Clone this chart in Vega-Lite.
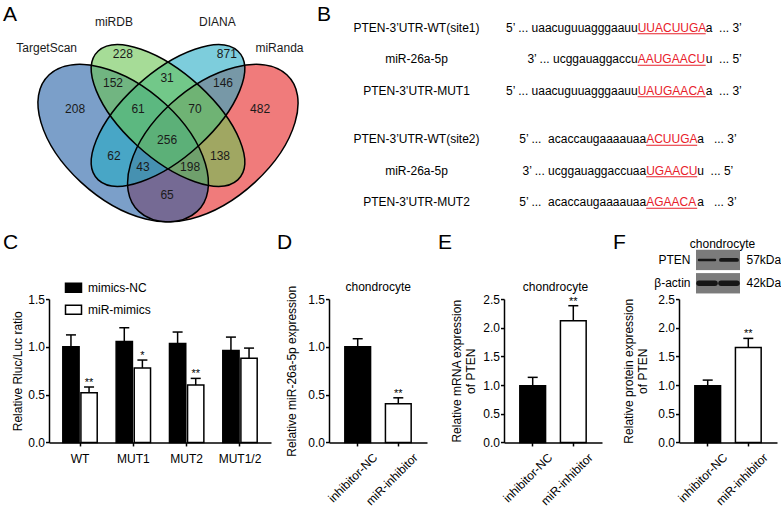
{
  "$schema": "https://vega.github.io/schema/vega-lite/v6.json",
  "background": "white",
  "padding": {"left": 3, "top": 3, "right": 0, "bottom": 0},
  "config": {
    "font": "Liberation Sans",
    "view": {"stroke": null},
    "text": {"font": "Liberation Sans"},
    "axis": {
      "labelFont": "Liberation Sans", "labelFontSize": 12, "labelColor": "black",
      "titleFont": "Liberation Sans", "titleFontSize": 12, "titleFontWeight": "normal", "titleColor": "black",
      "domainColor": "black", "domainWidth": 1.5, "tickColor": "black", "tickWidth": 1.5, "tickSize": 3.5,
      "grid": false, "labelPadding": 1, "minExtent": 0, "labelFlush": false, "labelOverlap": false
    },
    "title": {"font": "Liberation Sans", "fontWeight": "normal", "color": "black"},
    "legend": {"labelFont": "Liberation Sans", "labelFontSize": 12, "labelColor": "black"}
  },
  "datasets": {
    "venn": [
      {"set": "miRanda", "u": 0.65, "v": 0.47},
      {"set": "TargetScan", "u": 0.35, "v": 0.47},
      {"set": "DIANA", "u": 0.5, "v": 0.57},
      {"set": "miRDB", "u": 0.5, "v": 0.57}
    ],
    "vennCounts": [
      {"n": "228", "u": 0.349, "v": 0.794}, {"n": "871", "u": 0.697, "v": 0.794},
      {"n": "152", "u": 0.316, "v": 0.688}, {"n": "31", "u": 0.497, "v": 0.707},
      {"n": "146", "u": 0.684, "v": 0.688}, {"n": "208", "u": 0.189, "v": 0.594},
      {"n": "61", "u": 0.4, "v": 0.594}, {"n": "70", "u": 0.59, "v": 0.594},
      {"n": "482", "u": 0.808, "v": 0.594}, {"n": "256", "u": 0.497, "v": 0.482},
      {"n": "62", "u": 0.319, "v": 0.424}, {"n": "138", "u": 0.674, "v": 0.424},
      {"n": "43", "u": 0.416, "v": 0.384}, {"n": "198", "u": 0.574, "v": 0.384},
      {"n": "65", "u": 0.497, "v": 0.283}
    ],
    "vennNames": [
      {"name": "TargetScan", "u": 0.094, "v": 0.813},
      {"name": "miRDB", "u": 0.319, "v": 0.907},
      {"name": "DIANA", "u": 0.665, "v": 0.907},
      {"name": "miRanda", "u": 0.873, "v": 0.813}
    ],
    "seq1": [
      {"label": "PTEN-3’UTR-WT(site1)", "left": "5’ ... uaacuguuagggaauu", "site": "UUACUUGA", "right": "a\u00a0\u00a0... 3’", "start": 0, "end": 8},
      {"label": "miR-26a-5p", "left": "3’ ... ucggauaggaccu", "site": "AAUGAACU", "right": "u\u00a0\u00a0... 5’", "start": 0, "end": 8},
      {"label": "PTEN-3’UTR-MUT1", "left": "5’ ... uaacuguuagggaauu", "site": "UAUGAACA", "right": "a\u00a0\u00a0... 3’", "start": 0, "end": 8}
    ],
    "seq2": [
      {"label": "PTEN-3’UTR-WT(site2)", "left": "5’ ...\u00a0\u00a0acaccaugaaaauaa", "site": "ACUUGA", "right": "a\u00a0\u00a0\u00a0... 3’", "start": 1, "end": 7},
      {"label": "miR-26a-5p", "left": "3’ ... ucggauaggaccuaa", "site": "UGAACU", "right": "u\u00a0\u00a0... 5’", "start": 1, "end": 7},
      {"label": "PTEN-3’UTR-MUT2", "left": "5’ ...\u00a0\u00a0acaccaugaaaauaa", "site": "AGAACA", "right": "a\u00a0\u00a0\u00a0... 3’", "start": 1, "end": 7}
    ],
    "cData": [
      {"site": "WT", "treat": "mimics-NC", "mean": 1.0, "upper": 1.125, "sig": ""},
      {"site": "WT", "treat": "miR-mimics", "mean": 0.52, "upper": 0.58, "sig": "**"},
      {"site": "MUT1", "treat": "mimics-NC", "mean": 1.055, "upper": 1.2, "sig": ""},
      {"site": "MUT1", "treat": "miR-mimics", "mean": 0.78, "upper": 0.862, "sig": "*"},
      {"site": "MUT2", "treat": "mimics-NC", "mean": 1.035, "upper": 1.155, "sig": ""},
      {"site": "MUT2", "treat": "miR-mimics", "mean": 0.6, "upper": 0.67, "sig": "**"},
      {"site": "MUT1/2", "treat": "mimics-NC", "mean": 0.963, "upper": 1.102, "sig": ""},
      {"site": "MUT1/2", "treat": "miR-mimics", "mean": 0.88, "upper": 0.987, "sig": ""}
    ],
    "dData": [
      {"group": "inhibitor-NC", "mean": 1.0, "upper": 1.085, "sig": ""},
      {"group": "miR-inhibitor", "mean": 0.404, "upper": 0.467, "sig": "**"}
    ],
    "eData": [
      {"group": "inhibitor-NC", "mean": 0.99, "upper": 1.135, "sig": ""},
      {"group": "miR-inhibitor", "mean": 2.122, "upper": 2.384, "sig": "**"}
    ],
    "fData": [
      {"group": "inhibitor-NC", "mean": 0.99, "upper": 1.087, "sig": ""},
      {"group": "miR-inhibitor", "mean": 1.657, "upper": 1.814, "sig": "**"}
    ],
    "blot": [
      {"protein": "PTEN", "lane": "inhibitor-NC", "intensity": 0.45},
      {"protein": "PTEN", "lane": "miR-inhibitor", "intensity": 0.7},
      {"protein": "β-actin", "lane": "inhibitor-NC", "intensity": 1},
      {"protein": "β-actin", "lane": "miR-inhibitor", "intensity": 1}
    ]
  },
  "bounds": "flush",
  "spacing": 287.05,
  "resolve": {"scale": {"fill": "independent", "shape": "independent", "strokeWidth": "independent"}},
  "vconcat": [
    {
      "bounds": "flush",
      "spacing": 203.7,
      "resolve": {"scale": {"fill": "independent", "shape": "independent", "strokeWidth": "independent"}},
      "hconcat": [
        {
          "width": 249, "height": 209.75,
          "title": {"text": "A", "anchor": "start", "frame": "group", "fontSize": 21, "dx": -46, "offset": -29.75, "baseline": "alphabetic"},
          "encoding": {
            "x": {"field": "u", "type": "quantitative", "scale": {"domain": [0.1018, 0.935], "nice": false, "zero": false}, "axis": null},
            "y": {"field": "v", "type": "quantitative", "scale": {"domain": [0.185, 0.9447], "nice": false, "zero": false}, "axis": null}
          },
          "layer": [
            {
              "data": {"name": "venn"},
              "mark": {"type": "point", "filled": true, "fillOpacity": 0.6, "strokeWidth": 0, "size": 4, "opacity": 1},
              "encoding": {
                "shape": {"field": "set", "type": "nominal", "legend": null, "scale": {"domain": ["TargetScan", "miRDB", "DIANA", "miRanda"], "range": [
                  "M 74 68.31 C 50.64 89.87 -1.42 76.76 -42.29 39.03 C -83.16 1.3 -97.36 -46.75 -74 -68.31 C -50.64 -89.87 1.42 -76.76 42.29 -39.03 C 83.16 -1.3 97.36 46.75 74 68.31 Z",
                  "M 69.77 64.4 C 52.26 80.57 6.82 64.85 -31.71 29.28 C -70.24 -6.29 -87.28 -48.23 -69.77 -64.4 C -52.26 -80.57 -6.82 -64.85 31.71 -29.28 C 70.24 6.29 87.28 48.23 69.77 64.4 Z",
                  "M -69.77 64.4 C -52.26 80.57 -6.82 64.85 31.71 29.28 C 70.24 -6.29 87.28 -48.23 69.77 -64.4 C 52.26 -80.57 6.82 -64.85 -31.71 -29.28 C -70.24 6.29 -87.28 48.23 -69.77 64.4 Z",
                  "M -74 68.31 C -50.64 89.87 1.42 76.76 42.29 39.03 C 83.16 1.3 97.36 -46.75 74 -68.31 C 50.64 -89.87 -1.42 -76.76 -42.29 -39.03 C -83.16 -1.3 -97.36 46.75 -74 68.31 Z"
                ]}},
                "fill": {"field": "set", "type": "nominal", "legend": null, "scale": {"domain": ["TargetScan", "miRDB", "DIANA", "miRanda"], "range": ["#235fa5", "#6bc552", "#26acc5", "#e62323"]}}
              }
            },
            {
              "data": {"name": "venn"},
              "mark": {"type": "point", "filled": false, "color": "black", "stroke": "black", "strokeWidth": 1.5, "size": 4, "opacity": 1},
              "encoding": {
                "shape": {"field": "set", "type": "nominal", "legend": null}
              }
            },
            {
              "data": {"name": "vennCounts"},
              "mark": {"type": "text", "fontSize": 12, "color": "#1a1a1a", "align": "center", "baseline": "middle"},
              "encoding": {"text": {"field": "n"}}
            },
            {
              "data": {"name": "vennNames"},
              "mark": {"type": "text", "fontSize": 12, "color": "#1a1a1a", "align": "center", "baseline": "middle"},
              "encoding": {"text": {"field": "name"}}
            }
          ]
        },
        {
          "bounds": "flush",
          "spacing": 16.5,
          "vconcat": [
            {
              "width": 238, "height": 94.5,
              "title": {"text": "B", "anchor": "start", "frame": "group", "fontSize": 21, "dx": -184.7, "offset": -29.75, "baseline": "alphabetic"},
              "data": {"name": "seq1"},
              "encoding": {
                "y": {"field": "label", "type": "nominal", "sort": null, "scale": {"paddingInner": 0, "paddingOuter": 0},
                      "axis": {"title": null, "domain": false, "ticks": false, "tickSize": 0, "labelAlign": "center", "labelPadding": 85.7, "labelLimit": 0}}
              },
              "layer": [
                {"mark": {"type": "text", "align": "right", "baseline": "middle", "fontSize": 12, "color": "black"},
                 "encoding": {"x": {"field": "start", "type": "quantitative", "scale": {"domain": [-16, 12], "nice": false, "zero": false}, "axis": null}, "text": {"field": "left"}}},
                {"mark": {"type": "text", "align": "left", "baseline": "middle", "fontSize": 12, "color": "#e8202a"},
                 "encoding": {"x": {"field": "start", "type": "quantitative", "scale": {"domain": [-16, 12], "nice": false, "zero": false}, "axis": null}, "text": {"field": "site"}}},
                {"mark": {"type": "text", "align": "left", "baseline": "middle", "fontSize": 12, "color": "black"},
                 "encoding": {"x": {"field": "end", "type": "quantitative", "scale": {"domain": [-16, 12], "nice": false, "zero": false}, "axis": null}, "text": {"field": "right"}}},
                {"mark": {"type": "rule", "color": "#e8202a", "strokeWidth": 1, "yOffset": 6},
                 "encoding": {"x": {"field": "start", "type": "quantitative", "scale": {"domain": [-16, 12], "nice": false, "zero": false}, "axis": null}, "x2": {"field": "end"}}}
              ]
            },
            {
              "width": 238, "height": 94.5,
              "data": {"name": "seq2"},
              "encoding": {
                "y": {"field": "label", "type": "nominal", "sort": null, "scale": {"paddingInner": 0, "paddingOuter": 0},
                      "axis": {"title": null, "domain": false, "ticks": false, "tickSize": 0, "labelAlign": "center", "labelPadding": 85.7, "labelLimit": 0}}
              },
              "layer": [
                {"mark": {"type": "text", "align": "right", "baseline": "middle", "fontSize": 12, "color": "black"},
                 "encoding": {"x": {"field": "start", "type": "quantitative", "scale": {"domain": [-16, 12], "nice": false, "zero": false}, "axis": null}, "text": {"field": "left"}}},
                {"mark": {"type": "text", "align": "left", "baseline": "middle", "fontSize": 12, "color": "#e8202a"},
                 "encoding": {"x": {"field": "start", "type": "quantitative", "scale": {"domain": [-16, 12], "nice": false, "zero": false}, "axis": null}, "text": {"field": "site"}}},
                {"mark": {"type": "text", "align": "left", "baseline": "middle", "fontSize": 12, "color": "black"},
                 "encoding": {"x": {"field": "end", "type": "quantitative", "scale": {"domain": [-16, 12], "nice": false, "zero": false}, "axis": null}, "text": {"field": "right"}}},
                {"mark": {"type": "rule", "color": "#e8202a", "strokeWidth": 1, "yOffset": 6},
                 "encoding": {"x": {"field": "start", "type": "quantitative", "scale": {"domain": [-16, 12], "nice": false, "zero": false}, "axis": null}, "x2": {"field": "end"}}}
              ]
            }
          ]
        }
      ]
    },
    {
      "bounds": "flush",
      "spacing": 58,
      "resolve": {"scale": {"fill": "independent", "shape": "independent", "strokeWidth": "independent"}},
      "hconcat": [
        {
          "width": 222, "height": 143.4,
          "title": {"text": "C", "anchor": "start", "frame": "group", "fontSize": 21, "dx": -46, "offset": 9, "baseline": "alphabetic"},
          "data": {"name": "cData"},
          "encoding": {
            "x": {"field": "site", "type": "nominal", "sort": null, "scale": {"paddingInner": 0.355, "paddingOuter": 0.259},
                  "axis": {"title": null, "labelAngle": 0, "labelAlign": "center", "labelBaseline": "top", "labelPadding": 8, "bandPosition": 0.5}},
            "xOffset": {"field": "treat", "type": "nominal", "sort": null, "scale": {"paddingInner": 0.1, "paddingOuter": 0}},
            "y": {"field": "mean", "type": "quantitative", "title": "Relative Rluc/Luc ratio", "scale": {"domain": [0, 1.5], "nice": false},
                  "axis": {"values": [0, 0.5, 1, 1.5], "format": ".1f", "titlePadding": 3}}
          },
          "layer": [
            {"mark": {"type": "bar", "stroke": "black", "strokeWidth": 1.5},
             "encoding": {"fill": {"field": "treat", "type": "nominal", "sort": null, "scale": {"domain": ["mimics-NC", "miR-mimics"], "range": ["black", "white"]},
               "legend": {"title": null, "orient": "none", "legendX": 15.5, "legendY": -20.3, "symbolType": "M -1 -0.5625 L 1 -0.5625 L 1 0.5625 L -1 0.5625 Z", "symbolSize": 256, "symbolStrokeColor": "black", "symbolStrokeWidth": 1.5, "symbolOpacity": 1, "labelOffset": 5.5, "rowPadding": 5, "labelFontSize": 12}}}},
            {"mark": {"type": "rule", "color": "black", "strokeWidth": 1.5}, "encoding": {"y2": {"field": "upper"}}},
            {"mark": {"type": "tick", "color": "black", "thickness": 1.5, "size": 10, "orient": "horizontal", "opacity": 1},
             "encoding": {"y": {"field": "upper", "type": "quantitative", "title": "Relative Rluc/Luc ratio"}}},
            {"mark": {"type": "text", "fontSize": 11, "baseline": "alphabetic", "dy": -1, "color": "black"},
             "encoding": {"y": {"field": "upper", "type": "quantitative", "title": "Relative Rluc/Luc ratio"}, "text": {"field": "sig"}}}
          ]
        },
        {
          "bounds": "flush",
          "spacing": 77,
          "resolve": {"scale": {"fill": "independent", "shape": "independent", "strokeWidth": "independent"}},
          "hconcat": [
            {
              "width": 98, "height": 143.4,
              "title": {"text": "D", "anchor": "start", "frame": "group", "fontSize": 21, "dx": -52, "offset": 10.3, "baseline": "alphabetic"},
              "data": {"name": "dData"},
              "encoding": {
                "x": {"field": "group", "type": "nominal", "sort": null, "scale": {"paddingInner": 0.366, "paddingOuter": 0.39},
                      "axis": {"title": "chondrocyte", "titleX": 48.7, "titleY": -152.4, "titleAlign": "center", "titleBaseline": "alphabetic", "titleAngle": 0,
                               "labelAngle": -45, "labelAlign": "right", "labelBaseline": "top", "labelOffset": 14, "labelPadding": 5.5, "bandPosition": 0.5}},
                "y": {"field": "mean", "type": "quantitative", "title": "Relative miR-26a-5p expression", "scale": {"domain": [0, 1.5], "nice": false},
                      "axis": {"values": [0, 0.5, 1, 1.5], "format": ".1f", "titlePadding": 9}}
              },
              "layer": [
                {"mark": {"type": "bar", "stroke": "black", "strokeWidth": 1.5},
                 "encoding": {"fill": {"field": "group", "type": "nominal", "legend": null, "scale": {"domain": ["inhibitor-NC", "miR-inhibitor"], "range": ["black", "white"]}}}},
                {"mark": {"type": "rule", "color": "black", "strokeWidth": 1.5}, "encoding": {"y2": {"field": "upper"}}},
                {"mark": {"type": "tick", "color": "black", "thickness": 1.5, "size": 10, "orient": "horizontal", "opacity": 1},
                 "encoding": {"y": {"field": "upper", "type": "quantitative", "title": "Relative miR-26a-5p expression"}}},
                {"mark": {"type": "text", "fontSize": 11, "baseline": "alphabetic", "dy": -1, "color": "black"},
                 "encoding": {"y": {"field": "upper", "type": "quantitative", "title": "Relative miR-26a-5p expression"}, "text": {"field": "sig"}}}
              ]
            },
            {
              "width": 98, "height": 143.4,
              "title": {"text": "E", "anchor": "start", "frame": "group", "fontSize": 21, "dx": -66, "offset": 10.3, "baseline": "alphabetic"},
              "data": {"name": "eData"},
              "encoding": {
                "x": {"field": "group", "type": "nominal", "sort": null, "scale": {"paddingInner": 0.366, "paddingOuter": 0.39},
                      "axis": {"title": "chondrocyte", "titleX": 51, "titleY": -152.4, "titleAlign": "center", "titleBaseline": "alphabetic", "titleAngle": 0,
                               "labelAngle": -45, "labelAlign": "right", "labelBaseline": "top", "labelOffset": 14, "labelPadding": 5.5, "bandPosition": 0.5}},
                "y": {"field": "mean", "type": "quantitative", "title": ["Relative mRNA expression", "of PTEN"], "scale": {"domain": [0, 2.5], "nice": false},
                      "axis": {"values": [0, 0.5, 1, 1.5, 2, 2.5], "format": ".1f", "titlePadding": 5, "titleLineHeight": 14}}
              },
              "layer": [
                {"mark": {"type": "bar", "stroke": "black", "strokeWidth": 1.5},
                 "encoding": {"fill": {"field": "group", "type": "nominal", "legend": null, "scale": {"domain": ["inhibitor-NC", "miR-inhibitor"], "range": ["black", "white"]}}}},
                {"mark": {"type": "rule", "color": "black", "strokeWidth": 1.5}, "encoding": {"y2": {"field": "upper"}}},
                {"mark": {"type": "tick", "color": "black", "thickness": 1.5, "size": 10, "orient": "horizontal", "opacity": 1},
                 "encoding": {"y": {"field": "upper", "type": "quantitative", "title": ["Relative mRNA expression", "of PTEN"]}}},
                {"mark": {"type": "text", "fontSize": 11, "baseline": "alphabetic", "dy": -1, "color": "black"},
                 "encoding": {"y": {"field": "upper", "type": "quantitative", "title": ["Relative mRNA expression", "of PTEN"]}, "text": {"field": "sig"}}}
              ]
            },
            {
              "width": 98, "height": 143.4,
              "title": {"text": "F", "anchor": "start", "frame": "group", "fontSize": 21, "dx": -66, "offset": -32, "baseline": "alphabetic"},
              "layer": [
                {
                  "data": {"name": "fData"},
                  "encoding": {
                    "x": {"field": "group", "type": "nominal", "sort": null, "scale": {"paddingInner": 0.366, "paddingOuter": 0.39},
                          "axis": {"title": "chondrocyte", "titleX": 43, "titleY": -194.7, "titleAlign": "center", "titleBaseline": "alphabetic", "titleAngle": 0,
                                   "labelAngle": -45, "labelAlign": "right", "labelBaseline": "top", "labelOffset": 14, "labelPadding": 5.5, "bandPosition": 0.5}},
                    "y": {"field": "mean", "type": "quantitative", "title": ["Relative protein expression", "of PTEN"], "scale": {"domain": [0, 2.5], "nice": false},
                          "axis": {"values": [0, 0.5, 1, 1.5, 2, 2.5], "format": ".1f", "titlePadding": 8, "titleLineHeight": 14, "orient": "left"}}
                  },
                  "layer": [
                    {"mark": {"type": "bar", "stroke": "black", "strokeWidth": 1.5},
                     "encoding": {"fill": {"field": "group", "type": "nominal", "legend": null, "scale": {"domain": ["inhibitor-NC", "miR-inhibitor"], "range": ["black", "white"]}}}},
                    {"mark": {"type": "rule", "color": "black", "strokeWidth": 1.5}, "encoding": {"y2": {"field": "upper"}}},
                    {"mark": {"type": "tick", "color": "black", "thickness": 1.5, "size": 10, "orient": "horizontal", "opacity": 1},
                     "encoding": {"y": {"field": "upper", "type": "quantitative", "title": ["Relative protein expression", "of PTEN"]}}},
                    {"mark": {"type": "text", "fontSize": 11, "baseline": "alphabetic", "dy": -1, "color": "black"},
                     "encoding": {"y": {"field": "upper", "type": "quantitative", "title": ["Relative protein expression", "of PTEN"]}, "text": {"field": "sig"}}}
                  ]
                },
                {
                  "data": {"name": "blot"},
                  "layer": [
                    {"mark": {"type": "rect", "fill": "#7b7b7b"},
                     "encoding": {
                       "x": {"field": "lane", "type": "nominal", "sort": null, "scale": {"range": [17, 61], "paddingInner": 0, "paddingOuter": 0}, "axis": null},
                       "y": {"field": "protein", "type": "nominal", "sort": null, "scale": {"range": [-49.3, -5.6], "paddingInner": 0.128, "paddingOuter": 0},
                             "axis": {"orient": "left", "offset": -13, "title": null, "domain": false, "ticks": false, "tickSize": 0, "labelPadding": 2}}
                     }},
                    {"mark": {"type": "point", "shape": "stroke", "size": 256, "filled": false, "color": "#161616", "opacity": 1, "strokeCap": "round"},
                     "encoding": {
                       "x": {"field": "lane", "type": "nominal", "sort": null, "scale": {"range": [17, 61], "paddingInner": 0, "paddingOuter": 0}, "axis": null},
                       "y": {"field": "protein", "type": "nominal", "sort": null, "scale": {"range": [-49.3, -5.6], "paddingInner": 0.128, "paddingOuter": 0},
                             "axis": {"orient": "right", "offset": -35, "title": null, "domain": false, "ticks": false, "tickSize": 0, "labelPadding": 4, "labelAlign": "left", "labelExpr": "datum.value == 'PTEN' ? '57kDa' : '42kDa'"}},
                       "strokeWidth": {"field": "intensity", "type": "quantitative", "scale": {"domain": [0, 1], "range": [0, 5.5]}, "legend": null}
                     }}
                  ],
                  "resolve": {"axis": {"y": "independent"}}
                }
              ],
              "resolve": {"scale": {"x": "independent", "y": "independent"}}
            }
          ]
        }
      ]
    }
  ]
}
